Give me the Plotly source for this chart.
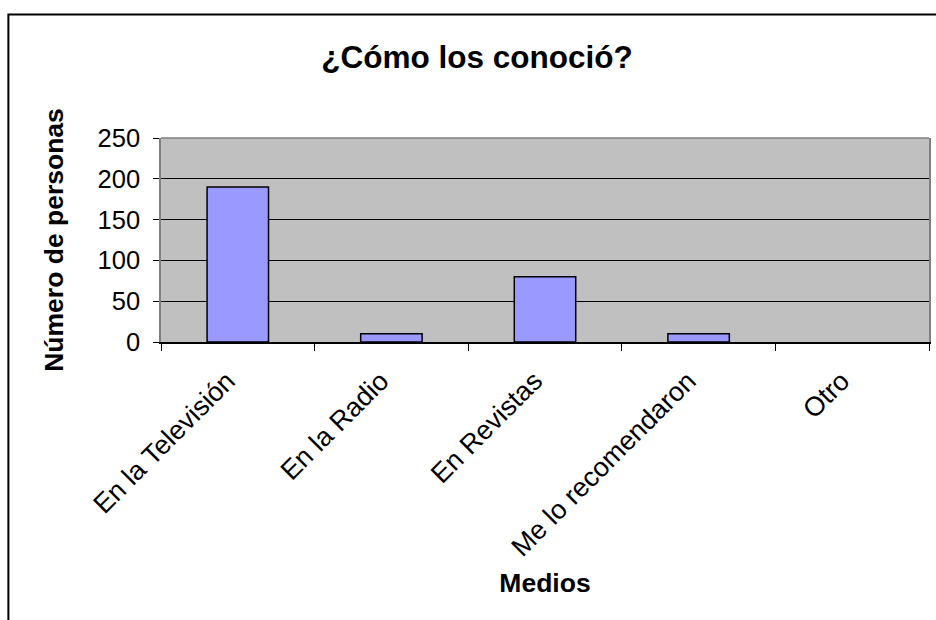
import plotly.graph_objects as go

categories = ["En la Televisión", "En la Radio", "En Revistas", "Me lo recomendaron", "Otro"]
values = [190, 10, 80, 10, 0]
y_ticks = [0, 50, 100, 150, 200, 250]

W, H = 936, 620
L, R, T, B = 161, 5, 138, 278
pw, ph = W - L - R, H - T - B

def px2x(px):
    return (px - L) / pw

def py2y(py):
    return (H - B - py) / ph

FONT = "Liberation Sans, Arial, sans-serif"

fig = go.Figure(go.Bar(
    x=categories, y=values, width=0.4,
    marker=dict(color="#9999FF",
                line=dict(color="black", width=[0 if v == 0 else 1.5 for v in values])),
))

fig.update_layout(
    width=W, height=H,
    margin=dict(l=L, r=R, t=T, b=B, pad=0),
    paper_bgcolor="white", plot_bgcolor="#C0C0C0",
    font=dict(family=FONT, size=25, color="black"),
    showlegend=False,
    title=dict(text="<b>¿Cómo los conoció?</b>", font=dict(size=31.5, family=FONT, color="black"),
               x=477 / W, xref="container", xanchor="center",
               y=1 - 57 / H, yref="container", yanchor="middle"),
    bargap=0.6,
)
fig.update_xaxes(
    type="category", tickangle=-45, tickson="boundaries",
    tickmode="array", tickvals=categories,
    ticktext=[c + "\u00a0\u00a0" for c in categories],
    ticks="outside", ticklen=7, tickcolor="black", tickwidth=1,
    showline=True, linecolor="black", linewidth=1.5,
    showgrid=False, zeroline=False,
    tickfont=dict(size=27, family=FONT, color="black"),
    ticklabelstandoff=0,
    title=dict(text="<b>Medios</b>", font=dict(size=26.5, family=FONT, color="black"), standoff=12),
)
fig.update_yaxes(
    range=[0, 250], tickvals=y_ticks,
    ticks="outside", ticklen=6, tickcolor="black", tickwidth=1,
    showline=True, linecolor="#808080", linewidth=1.5, mirror=True,
    showgrid=True, gridcolor="black", gridwidth=1, zeroline=False,
    tickfont=dict(size=25.5, family=FONT, color="black"),
    ticklabelstandoff=8,
    title=dict(text="<b>Número de personas</b>", font=dict(size=26.5, family=FONT, color="black"), standoff=26),
)
# gray top edge of plot area
fig.add_shape(type="line", xref="paper", yref="paper", x0=0, x1=1, y0=1, y1=1,
              line=dict(color="#808080", width=1.5), layer="above")
# outer chart frame
fig.add_shape(type="rect", xref="paper", yref="paper",
              x0=px2x(8), x1=px2x(946), y0=py2y(640), y1=py2y(14.5),
              line=dict(color="black", width=2), fillcolor="rgba(0,0,0,0)", layer="above")

fig.write_html("out.html")
